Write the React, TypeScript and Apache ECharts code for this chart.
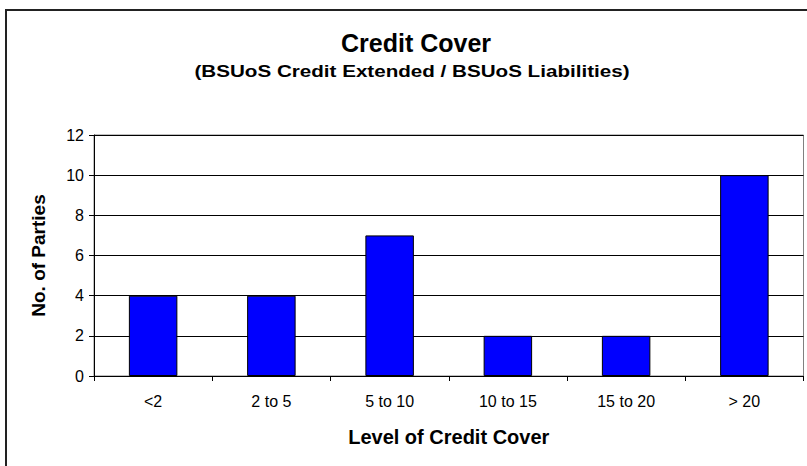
import React, { useEffect, useRef } from "react";
import * as echarts from "echarts";

const categories = ["<2", "2 to 5", "5 to 10", "10 to 15", "15 to 20", "> 20"];
const parties = [4, 4, 7, 2, 2, 10];
const titleText = "Credit Cover";
const subtitleText = "(BSUoS Credit Extended / BSUoS Liabilities)";
const xAxisName = "Level of Credit Cover";
const yAxisName = "No. of Parties";

const FONT = "'Liberation Sans', Arial, Helvetica, sans-serif";

export default function App() {
  const ref = useRef<HTMLDivElement>(null);

  useEffect(() => {
    document.body.style.margin = "0";
    const chart = echarts.init(ref.current!, null, { renderer: "svg" });
    chart.setOption({
      animation: false,
      backgroundColor: "#ffffff",
      textStyle: { fontFamily: FONT },
      title: [
        {
          text: titleText,
          left: 411,
          top: 25,
          textAlign: "center",
          textStyle: { fontFamily: FONT, fontSize: 25, fontWeight: "bold", color: "#000" },
        },
      ],
      graphic: [
        {
          type: "rect",
          shape: { x: 6, y: 10, width: 900, height: 600 },
          style: { fill: "none", stroke: "#222", lineWidth: 2 },
          silent: true,
        },
        {
          type: "text",
          x: 412,
          y: 71,
          scaleX: 1.25,
          silent: true,
          style: {
            text: subtitleText,
            fontFamily: FONT,
            fontSize: 16.5,
            fontWeight: "bold",
            fill: "#000",
            align: "center",
            verticalAlign: "middle",
          },
        },
      ],
      grid: {
        left: 94,
        top: 135,
        right: 3.5,
        bottom: 90,
        show: true,
        borderColor: "#808080",
        borderWidth: 1,
        backgroundColor: "transparent",
      },
      xAxis: {
        type: "category",
        data: categories,
        name: xAxisName,
        nameLocation: "middle",
        nameGap: 51,
        nameTextStyle: { fontFamily: FONT, fontSize: 20, fontWeight: "bold", color: "#000" },
        axisLine: { show: true, lineStyle: { color: "#000", width: 1 } },
        axisTick: { show: true, length: 5, interval: 0, alignWithLabel: false, lineStyle: { color: "#000" } },
        axisLabel: { interval: 0, margin: 17, fontFamily: FONT, fontSize: 16, color: "#000" },
        splitLine: { show: false },
      },
      yAxis: {
        type: "value",
        min: 0,
        max: 12,
        interval: 2,
        name: yAxisName,
        nameLocation: "middle",
        nameGap: 46,
        nameTextStyle: { fontFamily: FONT, fontSize: 19, fontWeight: "bold", color: "#000" },
        axisLine: { show: true, lineStyle: { color: "#000", width: 1 } },
        axisTick: { show: true, length: 5, lineStyle: { color: "#000" } },
        axisLabel: { margin: 10, fontFamily: FONT, fontSize: 16, color: "#000" },
        splitLine: { show: true, lineStyle: { color: "#000", width: 1 } },
      },
      series: [
        {
          type: "bar",
          data: parties,
          barWidth: "41%",
          itemStyle: { color: "#0000FF", borderColor: "#000", borderWidth: 1 },
        },
      ],
    });
    return () => chart.dispose();
  }, []);

  return (
    <div
      ref={ref}
      style={{ position: "absolute", left: 0, top: 0, width: 807, height: 466 }}
    />
  );
}
